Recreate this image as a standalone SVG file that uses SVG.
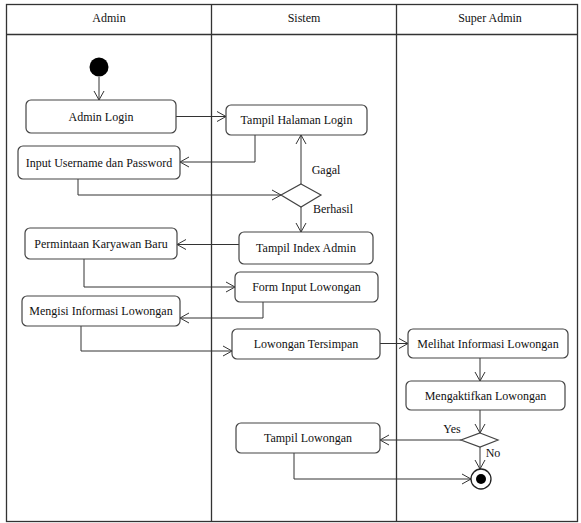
<svg xmlns="http://www.w3.org/2000/svg" width="581" height="523" viewBox="0 0 581 523">
<defs>
<marker id="arr" markerWidth="12" markerHeight="12" refX="10" refY="6" orient="auto" markerUnits="userSpaceOnUse">
<path d="M1,1 L10,6 L1,11" fill="none" stroke="#333" stroke-width="1"/>
</marker>
</defs>
<style>
.lane{fill:none;stroke:#333;stroke-width:1.3}
.box{fill:#fff;stroke:#444;stroke-width:1.2}
.t{font-family:"Liberation Serif","Times New Roman",serif;font-size:12px;fill:#111;text-anchor:middle;dominant-baseline:central}
.h{font-family:"Liberation Serif","Times New Roman",serif;font-size:12px;fill:#111;text-anchor:middle;dominant-baseline:central}
.c{fill:none;stroke:#333;stroke-width:1;marker-end:url(#arr)}
.d{fill:#fff;stroke:#444;stroke-width:1.2}
</style>
<rect width="581" height="523" fill="#fff"/>
<g id="swimlanes">
<rect class="lane" x="6.5" y="4.5" width="571" height="517"/>
<line class="lane" x1="6.5" y1="34.5" x2="577.5" y2="34.5"/>
<line class="lane" x1="211.5" y1="4.5" x2="211.5" y2="521.5"/>
<line class="lane" x1="396.5" y1="4.5" x2="396.5" y2="521.5"/>
<text class="h" x="109" y="18">Admin</text>
<text class="h" x="304" y="18">Sistem</text>
<text class="h" x="490" y="18">Super Admin</text>
</g>
<g id="connectors">
<path class="c" d="M99,77 V100"/>
<path class="c" d="M176,116.5 H226"/>
<path class="c" d="M255,135 V162 H180"/>
<path class="c" d="M78,179 V195 H281"/>
<path class="c" d="M301,184 V135"/>
<path class="c" d="M301,207 V232"/>
<path class="c" d="M239,244.5 H177"/>
<path class="c" d="M84,259 V287 H235"/>
<path class="c" d="M263,302 V318 H180"/>
<path class="c" d="M81,326 V351 H232"/>
<path class="c" d="M380,343.5 H408"/>
<path class="c" d="M480,358 V381"/>
<path class="c" d="M480,410 V433"/>
<path class="c" d="M461,440 H380"/>
<path class="c" d="M480,447 V469"/>
<path class="c" d="M294,453 V479 H471"/>
<text class="t" x="326" y="170" style="text-anchor:middle">Gagal</text>
<text class="t" x="333" y="209">Berhasil</text>
<text class="t" x="452" y="429">Yes</text>
<text class="t" x="493" y="453">No</text>
</g>
<g id="start"><circle cx="99" cy="67" r="9.5" fill="#000"/></g>
<g id="admin-login"><rect class="box" x="26" y="100" width="150" height="33" rx="5"/><text class="t" x="101" y="116.5">Admin Login</text></g>
<g id="input-username"><rect class="box" x="18" y="146" width="162" height="33" rx="5"/><text class="t" x="99" y="162.5">Input Username dan Password</text></g>
<g id="tampil-halaman-login"><rect class="box" x="226" y="105" width="141" height="30" rx="5"/><text class="t" x="296.5" y="120">Tampil Halaman Login</text></g>
<g id="decision-login"><polygon class="d" points="301,184 321,195 301,207 281,195"/></g>
<g id="tampil-index-admin"><rect class="box" x="239" y="232" width="134" height="32" rx="5"/><text class="t" x="306" y="248">Tampil Index Admin</text></g>
<g id="permintaan"><rect class="box" x="25" y="228" width="152" height="31" rx="5"/><text class="t" x="101" y="243.5">Permintaan Karyawan Baru</text></g>
<g id="form-input"><rect class="box" x="235" y="272" width="143" height="30" rx="5"/><text class="t" x="306.5" y="287">Form Input Lowongan</text></g>
<g id="mengisi"><rect class="box" x="22" y="296" width="158" height="30" rx="5"/><text class="t" x="101" y="311">Mengisi Informasi Lowongan</text></g>
<g id="lowongan-tersimpan"><rect class="box" x="232" y="329" width="148" height="30" rx="5"/><text class="t" x="306" y="344">Lowongan Tersimpan</text></g>
<g id="melihat"><rect class="box" x="408" y="329" width="160" height="29" rx="5"/><text class="t" x="488" y="343.5">Melihat Informasi Lowongan</text></g>
<g id="mengaktifkan"><rect class="box" x="406" y="381" width="159" height="29" rx="5"/><text class="t" x="485.5" y="395.5">Mengaktifkan Lowongan</text></g>
<g id="decision-aktif"><polygon class="d" points="480,433 498,440 480,447 461,440"/></g>
<g id="tampil-lowongan"><rect class="box" x="236" y="423" width="144" height="30" rx="5"/><text class="t" x="308" y="438">Tampil Lowongan</text></g>
<g id="end"><circle cx="481" cy="479" r="10" fill="#fff" stroke="#222" stroke-width="1.3"/><circle cx="481" cy="479" r="5" fill="#000"/></g>
</svg>
